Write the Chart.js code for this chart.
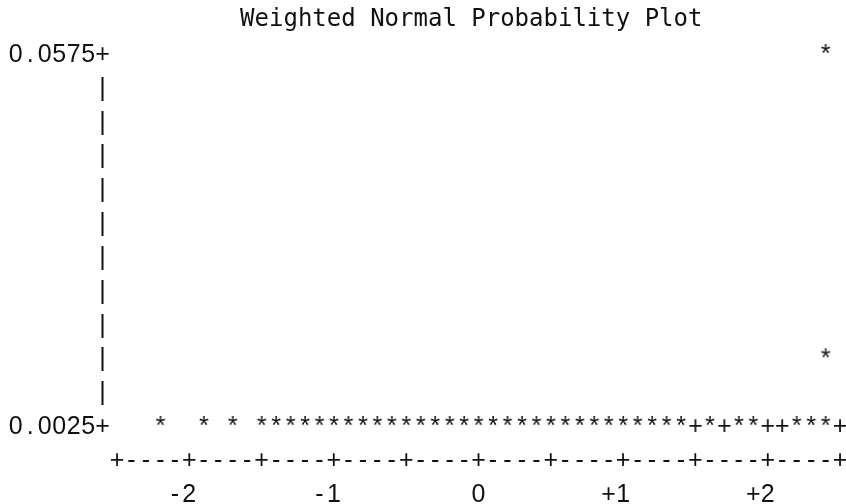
<!DOCTYPE html>
<html>
<head>
<meta charset="utf-8">
<script src="https://cdn.jsdelivr.net/npm/chart.js@4/dist/chart.umd.min.js"></script>
<style>
  html, body { margin: 0; padding: 0; background: #fff; }
  canvas { display: block; }
</style>
</head>
<body>
<canvas id="plot" width="846" height="504"></canvas>
<script>
// normal quantiles (x) and weights (y) of the plotted points
const starX = [-2.2, -1.9, -1.7,
  -1.5, -1.4, -1.3, -1.2, -1.1, -1.0, -0.9, -0.8, -0.7, -0.6,
  -0.5, -0.4, -0.3, -0.2, -0.1, 0.0, 0.1, 0.2, 0.3, 0.4,
  0.5, 0.6, 0.7, 0.8, 0.9, 1.0, 1.1, 1.2, 1.3, 1.4,
  1.6, 1.8, 1.9, 2.2, 2.3, 2.4,
  2.4, 2.4];
const starY = [0.0025, 0.0025, 0.0025,
  0.0025, 0.0025, 0.0025, 0.0025, 0.0025, 0.0025, 0.0025, 0.0025, 0.0025, 0.0025,
  0.0025, 0.0025, 0.0025, 0.0025, 0.0025, 0.0025, 0.0025, 0.0025, 0.0025, 0.0025,
  0.0025, 0.0025, 0.0025, 0.0025, 0.0025, 0.0025, 0.0025, 0.0025, 0.0025, 0.0025,
  0.0025, 0.0025, 0.0025, 0.0025, 0.0025, 0.0025,
  0.0125, 0.0575];

// reference line '+' marks, only where no point covers them
const refX = [1.5, 1.7, 2.0, 2.1, 2.5];
const refY = [0.0025, 0.0025, 0.0025, 0.0025, 0.0025];

const xTicks = [-2, -1, 0, 1, 2];
const xTickLabels = ['-2', '-1', '0', '+1', '+2'];
const yTicks = [0.0575, 0.0025];
const yTickLabels = ['0.0575', '0.0025'];

const TEXT_FONT = '25px "Liberation Sans", Arial, sans-serif';
const INK = '#111';
const BASE_OFF = 9; // baseline below row centre

// little canvases holding one printer glyph, used as point styles
function glyph(ch) {
  const c = document.createElement('canvas');
  c.width = 24;
  c.height = 40;
  const g = c.getContext('2d');
  g.font = TEXT_FONT;
  g.fillStyle = INK;
  g.textAlign = 'center';
  g.textBaseline = 'alphabetic';
  g.fillText(ch, 12, 20 + BASE_OFF);
  return c;
}

function putChar(ctx, ch, x, y) {
  ctx.fillText(ch, x, y + BASE_OFF);
}

// draws the character axes ("+----+" and "|") from the chart scales
const printerAxes = {
  id: 'printerAxes',
  afterDraw(chart) {
    const ctx = chart.ctx;
    const xs = chart.scales.x;
    const ys = chart.scales.y;
    const cw = xs.getPixelForValue(xs.min + 0.1) - xs.getPixelForValue(xs.min);
    const rh = ys.getPixelForValue(ys.min) - ys.getPixelForValue(ys.min + 0.005);
    const left = xs.getPixelForValue(xs.min);
    const top = ys.getPixelForValue(ys.max);
    const bottom = ys.getPixelForValue(ys.min);
    const axisX = left - cw;

    ctx.save();
    ctx.font = TEXT_FONT;
    ctx.fillStyle = INK;
    ctx.textAlign = 'center';

    // vertical axis
    for (let y = top; y <= bottom + 0.5; y += rh) {
      const isTick = yTicks.some(v => Math.abs(ys.getPixelForValue(v) - y) < 1);
      putChar(ctx, isTick ? '+' : '|', axisX, y);
    }
    yTicks.forEach((v, i) => {
      const s = yTickLabels[i];
      const y = ys.getPixelForValue(v);
      for (let k = 0; k < s.length; k++) {
        putChar(ctx, s[k], axisX - (s.length - k) * cw, y);
      }
    });

    // horizontal axis
    const axisY = bottom + rh;
    let n = 0;
    for (let x = left; x <= xs.getPixelForValue(xs.max) + 0.5; x += cw) {
      putChar(ctx, n % 5 === 0 ? '+' : '-', x, axisY);
      n++;
    }
    xTicks.forEach((v, i) => {
      const s = xTickLabels[i];
      const x = xs.getPixelForValue(v);
      for (let k = 0; k < s.length; k++) {
        putChar(ctx, s[k], x - (s.length - 1 - k) * cw, axisY + rh);
      }
    });
    ctx.restore();
  }
};

const starImg = glyph('*');
const plusImg = glyph('+');

new Chart(document.getElementById('plot'), {
  type: 'scatter',
  data: {
    datasets: [
      {
        label: 'Weight',
        data: starX.map((x, i) => ({ x: x, y: starY[i] })),
        pointStyle: starImg,
        pointRadius: 3,
        clip: false
      },
      {
        label: 'Reference',
        data: refX.map((x, i) => ({ x: x, y: refY[i] })),
        pointStyle: plusImg,
        pointRadius: 3,
        clip: false
      }
    ]
  },
  options: {
    responsive: false,
    animation: false,
    events: [],
    layout: { padding: { left: 117, right: 6, top: 0, bottom: 79 } },
    scales: {
      x: { type: 'linear', min: -2.5, max: 2.5, display: false },
      y: { type: 'linear', min: 0.0025, max: 0.0575, display: false }
    },
    plugins: {
      legend: { display: false },
      tooltip: { enabled: false },
      title: {
        display: true,
        // trailing space keeps the heading on the printer grid, a little left of centre
        text: 'Weighted Normal Probability Plot ',
        color: INK,
        fullSize: false,
        font: { family: '"DejaVu Sans Mono", monospace', size: 24, weight: 'normal', lineHeight: 1.2 },
        padding: { top: 5, bottom: 19.2 }
      }
    }
  },
  plugins: [printerAxes]
});
</script>
</body>
</html>
